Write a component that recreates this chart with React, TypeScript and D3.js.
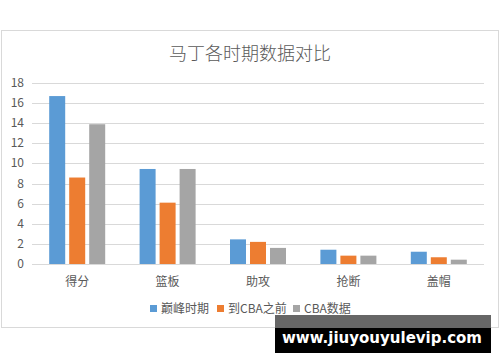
import React from "react";
import * as d3 from "d3";

const categories = ["得分", "篮板", "助攻", "抢断", "盖帽"];
const seriesNames = ["巅峰时期", "到CBA之前", "CBA数据"];
const peak = [16.7, 9.45, 2.45, 1.42, 1.22];
const beforeCBA = [8.6, 6.1, 2.2, 0.83, 0.67];
const cbaData = [13.9, 9.45, 1.6, 0.83, 0.43];
const yTicks = [0, 2, 4, 6, 8, 10, 12, 14, 16, 18];
const colors = ["#5B9BD5", "#ED7D31", "#A5A5A5"];

const W = 500;
const H = 362;
const font = "'Noto Sans CJK SC', 'Noto Sans', sans-serif";

export default function App() {
  const series = [peak, beforeCBA, cbaData];
  const x = d3.scaleBand<string>().domain(categories).range([32, 484]).paddingInner(0).paddingOuter(0);
  const y = d3.scaleLinear().domain([0, 18]).range([264, 83]);
  const barW = 16;
  const gap = 4;
  const sub = d3
    .scaleBand<number>()
    .domain([0, 1, 2])
    .range([-(barW * 3 + gap * 2) / 2, (barW * 3 + gap * 2) / 2])
    .paddingInner(gap / (barW + gap))
    .paddingOuter(0);

  const legendX = [150, 217, 293];

  return (
    <svg width={W} height={H} style={{ position: "absolute", left: 0, top: 0, background: "#fff" }}>
      <rect x={0} y={0} width={W} height={H} fill="#fff" />
      <rect x={1.5} y={30.5} width={497} height={297} fill="#fff" stroke="#D9D9D9" strokeWidth={1} />
      <text x={250} y={60} textAnchor="middle" fontFamily={font} fontSize={18} fontWeight={300} fill="#595959">
        马丁各时期数据对比
      </text>
      {yTicks.map((t) => (
        <g key={t}>
          <line x1={32} x2={484} y1={Math.round(y(t)) + 0.5} y2={Math.round(y(t)) + 0.5} stroke="#D9D9D9" strokeWidth={1} />
          <text x={24} y={y(t) + 4} textAnchor="end" fontFamily={font} fontSize={12} fill="#595959">
            {t}
          </text>
        </g>
      ))}
      {categories.map((c, i) => {
        const cx = (x(c) as number) + x.bandwidth() / 2;
        return (
          <g key={c}>
            {series.map((s, j) => (
              <rect
                key={j}
                x={cx + (sub(j) as number)}
                y={y(s[i])}
                width={sub.bandwidth()}
                height={y(0) - y(s[i])}
                fill={colors[j]}
              />
            ))}
            <text x={cx} y={286} textAnchor="middle" fontFamily={font} fontSize={12} fill="#595959">
              {c}
            </text>
          </g>
        );
      })}
      {seriesNames.map((n, j) => (
        <g key={n}>
          <rect x={legendX[j]} y={305} width={7} height={7} fill={colors[j]} />
          <text x={legendX[j] + 11} y={313} fontFamily={font} fontSize={12} fill="#595959">
            {n}
          </text>
        </g>
      ))}
      <rect x={275} y={315} width={216} height={14} fill="#666666" />
      <rect x={275} y={328} width={216} height={25} fill="#000" />
      <text x={382} y={343} textAnchor="middle" fontFamily="'DejaVu Sans', sans-serif" fontWeight="bold" fontSize={15} fill="#fff">
        www.jiuyouyulevip.com
      </text>
    </svg>
  );
}
